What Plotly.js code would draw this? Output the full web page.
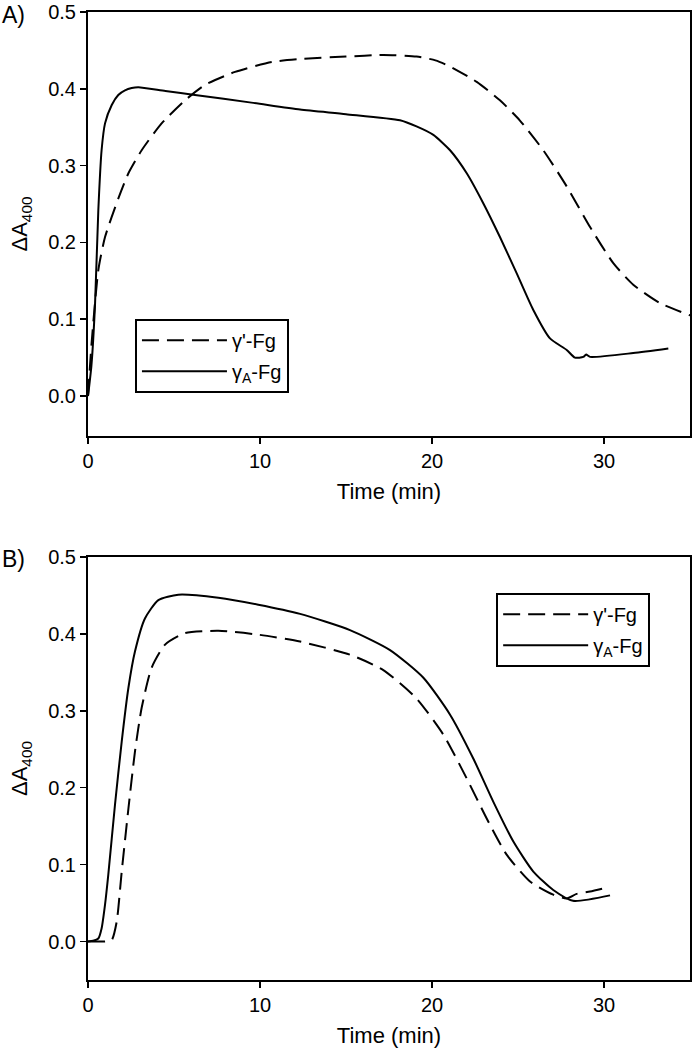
<!DOCTYPE html>
<html>
<head>
<meta charset="utf-8">
<script src="https://cdn.plot.ly/plotly-3.0.1.min.js"></script>
<style>html,body{margin:0;padding:0;background:#fff;}#chart{width:693px;height:1060px;}</style>
</head>
<body>
<div id="chart"></div>
<script>
// Panel A
const seriesNames = ["γ'-Fg", "γ<sub>A</sub>-Fg"];
const tA_prime = [0, 0.21, 0.6, 0.99, 1.76, 2.35, 3.12, 4.28, 5.64, 6.8, 8.55, 10.68, 12.5, 15, 17.17, 19.1, 20.2, 21.05, 22.6, 23.95, 25.1, 26.47, 27.83, 29.19, 30.54, 31.7, 33.26, 35.0];
const vA_prime = [0, 0.069, 0.164, 0.207, 0.257, 0.290, 0.320, 0.355, 0.385, 0.405, 0.422, 0.435, 0.439, 0.442, 0.444, 0.442, 0.437, 0.429, 0.409, 0.385, 0.359, 0.320, 0.273, 0.220, 0.173, 0.145, 0.121, 0.105];
const tA_A = [0, 0.2, 0.41, 0.6, 0.79, 0.99, 1.38, 1.76, 2.15, 2.54, 2.93, 4.5, 6.22, 9.5, 12.33, 15.0, 18.14, 19.1, 20.08, 21.05, 22.02, 22.98, 23.95, 24.92, 25.89, 26.86, 27.83, 28.31, 28.8, 28.96, 29.19, 31.7, 33.74];
const vA_A = [0, 0.04, 0.12, 0.242, 0.32, 0.355, 0.379, 0.392, 0.398, 0.401, 0.402, 0.397, 0.392, 0.382, 0.373, 0.367, 0.359, 0.351, 0.340, 0.320, 0.290, 0.251, 0.207, 0.160, 0.112, 0.075, 0.060, 0.050, 0.051, 0.054, 0.051, 0.056, 0.062];
// Panel B
const tB_prime = [0, 0.5, 1.0, 1.38, 1.67, 1.96, 2.35, 2.73, 3.12, 3.70, 4.48, 5.64, 7.58, 9.9, 12.33, 15.23, 17.17, 19.1, 20.66, 22.02, 23.18, 24.34, 25.7, 27.05, 27.83, 28.41, 29.19, 30.16];
const vB_prime = [0, 0, 0, 0.002, 0.026, 0.091, 0.173, 0.247, 0.304, 0.356, 0.386, 0.401, 0.404, 0.399, 0.390, 0.373, 0.353, 0.316, 0.269, 0.212, 0.160, 0.113, 0.078, 0.061, 0.056, 0.062, 0.065, 0.070];
const tB_A = [0, 0.3, 0.6, 0.79, 0.99, 1.18, 1.57, 1.96, 2.35, 2.73, 3.31, 4.09, 5.25, 7.58, 9.9, 12.33, 15.23, 17.56, 19.5, 21.05, 22.4, 23.56, 24.73, 25.89, 27.05, 28.2, 30.35];
const vB_A = [0, 0.001, 0.004, 0.017, 0.048, 0.087, 0.178, 0.260, 0.330, 0.377, 0.420, 0.444, 0.451, 0.447, 0.438, 0.426, 0.405, 0.379, 0.343, 0.295, 0.238, 0.182, 0.130, 0.091, 0.067, 0.053, 0.060];

const xTicks = [0, 10, 20, 30];
const yTicks = [0.0, 0.1, 0.2, 0.3, 0.4, 0.5];
const yTickText = ["0.0", "0.1", "0.2", "0.3", "0.4", "0.5"];
const panelLabels = ["A)", "B)"];
const xTitle = "Time (min)";
const yTitle = "ΔA<sub>400</sub>";

const FONT = "Liberation Sans, Arial, sans-serif";
const dashStyle = "17px,8px";

const traces = [
  {x: tA_prime, y: vA_prime, name: seriesNames[0], xaxis: "x", yaxis: "y", legend: "legend", legendgroup: "a1",
   mode: "lines", line: {color: "#000", width: 2, dash: dashStyle, shape: "spline", smoothing: 0.6}},
  {x: tA_A, y: vA_A, name: seriesNames[1], xaxis: "x", yaxis: "y", legend: "legend", legendgroup: "a2",
   mode: "lines", line: {color: "#000", width: 2, shape: "spline", smoothing: 0.6}},
  {x: tB_prime, y: vB_prime, name: seriesNames[0], xaxis: "x2", yaxis: "y2", legend: "legend2", legendgroup: "b1",
   mode: "lines", line: {color: "#000", width: 2, dash: dashStyle, shape: "spline", smoothing: 0.6}},
  {x: tB_A, y: vB_A, name: seriesNames[1], xaxis: "x2", yaxis: "y2", legend: "legend2", legendgroup: "b2",
   mode: "lines", line: {color: "#000", width: 2, shape: "spline", smoothing: 0.6}}
];

function xAxis(anchor) {
  return {domain: [0, 1], anchor: anchor, range: [0, 35], tickvals: xTicks, ticktext: xTicks.map(String),
    showline: true, mirror: true, linecolor: "#000", linewidth: 2, ticks: "outside", ticklen: 6, tickwidth: 1.5,
    tickcolor: "#000", showgrid: false, zeroline: false, tickfont: {size: 20, color: "#000", family: FONT},
    title: {text: xTitle, font: {size: 22, color: "#000", family: FONT}, standoff: 13}};
}
function yAxis(anchor, domain, range) {
  return {domain: domain, anchor: anchor, range: range, tickvals: yTicks, ticktext: yTickText,
    showline: true, mirror: true, linecolor: "#000", linewidth: 2, ticks: "outside", ticklen: 6, tickwidth: 1.5,
    tickcolor: "#000", showgrid: false, zeroline: false, tickfont: {size: 20, color: "#000", family: FONT},
    title: {text: yTitle, font: {size: 22, color: "#000", family: FONT}, standoff: 14}};
}
const legendStyle = {bgcolor: "#fff", bordercolor: "#000", borderwidth: 2, font: {size: 20, color: "#000", family: FONT},
  traceorder: "grouped", tracegroupgap: 2, itemwidth: 85, xanchor: "left", yanchor: "top"};

const layout = {
  width: 693, height: 1060,
  margin: {l: 88, r: 3, t: 12, b: 80},
  paper_bgcolor: "#fff", plot_bgcolor: "#fff",
  font: {family: FONT, color: "#000"},
  showlegend: true,
  xaxis: xAxis("y"),
  yaxis: yAxis("x", [0.562, 1], [-0.052, 0.5]),
  xaxis2: xAxis("y2"),
  yaxis2: yAxis("x2", [0, 0.437], [-0.05, 0.5]),
  legend: Object.assign({}, legendStyle, {x: 0.078, y: 0.683}),
  legend2: Object.assign({}, legendStyle, {x: 0.678, y: 0.40}),
  annotations: [
    {text: panelLabels[0], xref: "paper", yref: "paper", x: -88/602, y: 1.0, xanchor: "left", yanchor: "middle", showarrow: false,
     font: {size: 23, color: "#000", family: FONT}, yshift: -3},
    {text: panelLabels[1], xref: "paper", yref: "paper", x: -88/602, y: 0.437, xanchor: "left", yanchor: "middle", showarrow: false,
     font: {size: 23, color: "#000", family: FONT}, yshift: -2}
  ]
};

Plotly.newPlot("chart", traces, layout, {displayModeBar: false, staticPlot: true});
</script>
</body>
</html>
